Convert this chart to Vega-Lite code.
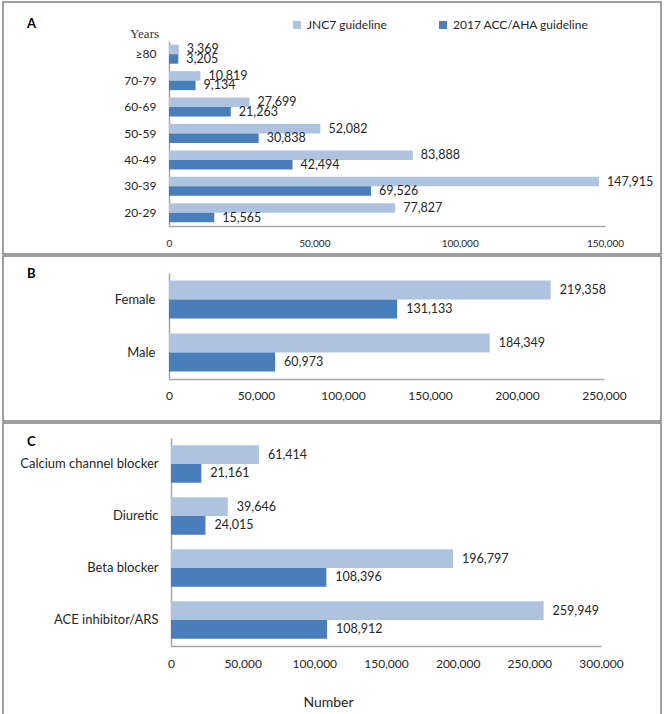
{
  "$schema": "https://vega.github.io/schema/vega-lite/v6.json",
  "padding": {"left": 2, "top": 1, "right": 4, "bottom": 2},
  "spacing": 0,
  "background": "white",
  "datasets": {
    "age": [
      {"category": "≥80", "guideline": "JNC7 guideline", "value": 3369},
      {"category": "≥80", "guideline": "2017 ACC/AHA guideline", "value": 3205},
      {"category": "70-79", "guideline": "JNC7 guideline", "value": 10819},
      {"category": "70-79", "guideline": "2017 ACC/AHA guideline", "value": 9134},
      {"category": "60-69", "guideline": "JNC7 guideline", "value": 27699},
      {"category": "60-69", "guideline": "2017 ACC/AHA guideline", "value": 21263},
      {"category": "50-59", "guideline": "JNC7 guideline", "value": 52082},
      {"category": "50-59", "guideline": "2017 ACC/AHA guideline", "value": 30838},
      {"category": "40-49", "guideline": "JNC7 guideline", "value": 83888},
      {"category": "40-49", "guideline": "2017 ACC/AHA guideline", "value": 42494},
      {"category": "30-39", "guideline": "JNC7 guideline", "value": 147915},
      {"category": "30-39", "guideline": "2017 ACC/AHA guideline", "value": 69526},
      {"category": "20-29", "guideline": "JNC7 guideline", "value": 77827},
      {"category": "20-29", "guideline": "2017 ACC/AHA guideline", "value": 15565}
    ],
    "sex": [
      {"category": "Female", "guideline": "JNC7 guideline", "value": 219358},
      {"category": "Female", "guideline": "2017 ACC/AHA guideline", "value": 131133},
      {"category": "Male", "guideline": "JNC7 guideline", "value": 184349},
      {"category": "Male", "guideline": "2017 ACC/AHA guideline", "value": 60973}
    ],
    "drug": [
      {"category": "Calcium channel blocker", "guideline": "JNC7 guideline", "value": 61414},
      {"category": "Calcium channel blocker", "guideline": "2017 ACC/AHA guideline", "value": 21161},
      {"category": "Diuretic", "guideline": "JNC7 guideline", "value": 39646},
      {"category": "Diuretic", "guideline": "2017 ACC/AHA guideline", "value": 24015},
      {"category": "Beta blocker", "guideline": "JNC7 guideline", "value": 196797},
      {"category": "Beta blocker", "guideline": "2017 ACC/AHA guideline", "value": 108396},
      {"category": "ACE inhibitor/ARS", "guideline": "JNC7 guideline", "value": 259949},
      {"category": "ACE inhibitor/ARS", "guideline": "2017 ACC/AHA guideline", "value": 108912}
    ]
  },
  "resolve": {"scale": {"color": "independent", "x": "independent", "y": "independent", "yOffset": "independent"}, "legend": {"color": "independent"}},
  "vconcat": [
    {
      "width": 658,
      "height": 252,
      "data": {"name": "age"},
      "title": {"text": "A", "anchor": "start", "frame": "group", "offset": -29, "dx": 24},
      "encoding": {
        "y": {
          "field": "category", "type": "nominal",
          "sort": ["≥80", "70-79", "60-69", "50-59", "40-49", "30-39", "20-29"],
          "scale": {"range": [39, 224], "paddingInner": 0.28, "paddingOuter": 0.14},
          "axis": {"offset": -166, "labelPadding": 13, "labelFontSize": 12, "title": "Years", "titleAngle": 0, "titleX": -25, "titleY": 31, "titleAlign": "center", "titleBaseline": "middle", "titleFont": "Liberation Serif", "titleFontSize": 13, "titleFontWeight": "normal", "titleColor": "#333"}
        },
        "yOffset": {"field": "guideline", "type": "nominal", "sort": ["JNC7 guideline", "2017 ACC/AHA guideline"]},
        "x": {
          "field": "value", "type": "quantitative",
          "scale": {"domain": [0, 150000], "range": [166, 602], "nice": false},
          "axis": {"offset": -28, "values": [0, 50000, 100000, 150000], "format": ",.0f", "labelFlush": false, "labelPadding": 12, "labelFontSize": 10, "title": null}
        }
      },
      "layer": [
        {
          "mark": {"type": "bar"},
          "encoding": {
            "color": {
              "field": "guideline", "type": "nominal",
              "scale": {"domain": ["JNC7 guideline", "2017 ACC/AHA guideline"], "range": ["#aec3e0", "#4a7ebb"]},
              "legend": {"orient": "none", "legendX": 288, "legendY": 17, "direction": "horizontal", "columns": 2, "columnPadding": 50, "title": null, "symbolType": "square", "symbolSize": 64, "labelFontSize": 12, "labelOffset": 4, "padding": 0}
            }
          }
        },
        {
          "mark": {"type": "text", "align": "left", "baseline": "middle", "dx": 8, "fontSize": 12.5, "font": "Lato", "color": "#262626"},
          "encoding": {"text": {"field": "value", "type": "quantitative", "format": ",.0f"}}
        }
      ]
    },
    {
      "width": 658,
      "height": 165,
      "data": {"name": "sex"},
      "title": {"text": "B", "anchor": "start", "frame": "group", "offset": -25, "dx": 24},
      "encoding": {
        "y": {
          "field": "category", "type": "nominal",
          "sort": ["Female", "Male"],
          "scale": {"range": [17, 123], "paddingInner": 0.28, "paddingOuter": 0.14},
          "axis": {"offset": -166, "labelPadding": 14, "labelFontSize": 13, "title": null}
        },
        "yOffset": {"field": "guideline", "type": "nominal", "sort": ["JNC7 guideline", "2017 ACC/AHA guideline"]},
        "x": {
          "field": "value", "type": "quantitative",
          "scale": {"domain": [0, 250000], "range": [166, 601], "nice": false},
          "axis": {"offset": -42, "values": [0, 50000, 100000, 150000, 200000, 250000], "format": ",.0f", "labelFlush": false, "labelPadding": 11, "labelFontSize": 12, "title": null}
        }
      },
      "layer": [
        {
          "mark": {"type": "bar"},
          "encoding": {
            "color": {
              "field": "guideline", "type": "nominal",
              "scale": {"domain": ["JNC7 guideline", "2017 ACC/AHA guideline"], "range": ["#aec3e0", "#4a7ebb"]},
              "legend": null
            }
          }
        },
        {
          "mark": {"type": "text", "align": "left", "baseline": "middle", "dx": 9, "fontSize": 12.5, "font": "Lato", "color": "#262626"},
          "encoding": {"text": {"field": "value", "type": "quantitative", "format": ",.0f"}}
        }
      ]
    },
    {
      "width": 658,
      "height": 293,
      "data": {"name": "drug"},
      "title": {"text": "C", "anchor": "start", "frame": "group", "offset": -26, "dx": 24},
      "encoding": {
        "y": {
          "field": "category", "type": "nominal",
          "sort": ["Calcium channel blocker", "Diuretic", "Beta blocker", "ACE inhibitor/ARS"],
          "scale": {"range": [15, 223], "paddingInner": 0.28, "paddingOuter": 0.14},
          "axis": {"offset": -168, "labelPadding": 13, "labelFontSize": 13, "title": null}
        },
        "yOffset": {"field": "guideline", "type": "nominal", "sort": ["JNC7 guideline", "2017 ACC/AHA guideline"]},
        "x": {
          "field": "value", "type": "quantitative",
          "scale": {"domain": [0, 300000], "range": [168, 598], "nice": false},
          "axis": {"offset": -70, "values": [0, 50000, 100000, 150000, 200000, 250000, 300000], "format": ",.0f", "labelFlush": false, "labelPadding": 12, "labelFontSize": 12, "title": "Number", "titleFontSize": 14, "titleFontWeight": "normal", "titleX": 325, "titleY": 56, "titleBaseline": "middle", "titleAlign": "center", "titleColor": "#262626"}
        }
      },
      "layer": [
        {
          "mark": {"type": "bar"},
          "encoding": {
            "color": {
              "field": "guideline", "type": "nominal",
              "scale": {"domain": ["JNC7 guideline", "2017 ACC/AHA guideline"], "range": ["#aec3e0", "#4a7ebb"]},
              "legend": null
            }
          }
        },
        {
          "mark": {"type": "text", "align": "left", "baseline": "middle", "dx": 9, "fontSize": 12.5, "font": "Lato", "color": "#262626"},
          "encoding": {"text": {"field": "value", "type": "quantitative", "format": ",.0f"}}
        }
      ]
    }
  ],
  "config": {
    "font": "Lato",
    "view": {"stroke": "#7f7f7f", "strokeWidth": 1.5},
    "title": {"font": "Lato", "fontSize": 13, "fontWeight": "bold", "color": "#000"},
    "axis": {"grid": false, "ticks": false, "tickSize": 0, "domainColor": "#a6a6a6", "domainWidth": 1.5, "labelFont": "Lato", "labelColor": "#262626", "titleFont": "Lato", "labelOverlap": false},
    "legend": {"labelFont": "Lato", "labelColor": "#262626"}
  }
}
